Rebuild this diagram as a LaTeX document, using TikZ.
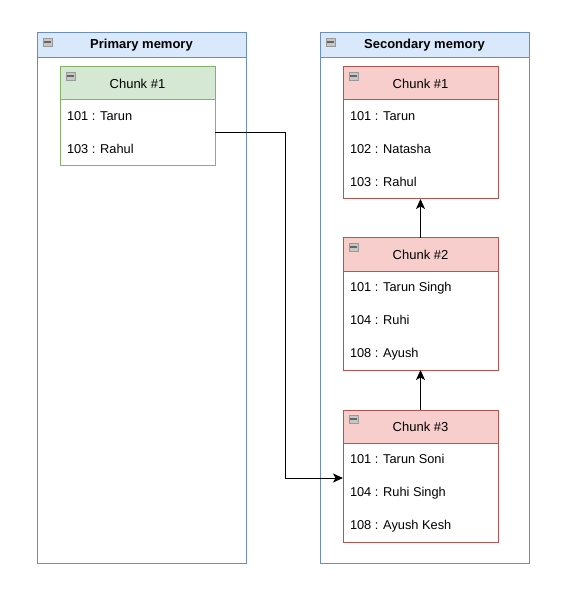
\documentclass[tikz,border=0pt]{standalone}
\usepackage{fontspec}
\setmainfont{Liberation Sans}
\usetikzlibrary{positioning,calc,arrows.meta}

\definecolor{memline}{HTML}{6C8EBF}
\definecolor{memfill}{HTML}{DAE8FC}
\definecolor{newline}{HTML}{82B366}
\definecolor{newfill}{HTML}{D5E8D4}
\definecolor{oldline}{HTML}{B85450}
\definecolor{oldfill}{HTML}{F8CECC}

% little collapse box in the top left corner of a header
\newcommand{\foldicon}[1]{%
  \draw[gray!80, fill=gray!45, line width=0.6pt] ($(#1)+(6,5)$) rectangle ++(9,8);
  \draw[black!60, line width=1.6pt] ($(#1)+(7.2,9)$) -- ++(6.6,0);}

\begin{document}
\begin{tikzpicture}[x=1pt, y=-1pt, line width=1pt,
  every node/.style = {inner sep=0pt, outer sep=0pt},
  memory/.style = {draw=memline, fill=white, minimum width=209pt,
    minimum height=530pt, anchor=north west},
  memhead/.style = {draw=memline, fill=memfill, minimum width=209pt,
    minimum height=25pt, anchor=north west,
    font=\fontsize{13}{15}\selectfont\bfseries},
  chunkhead/.style = {minimum width=155pt, minimum height=33pt,
    anchor=north west, font=\fontsize{13}{15}\selectfont},
  chunkbody/.style = {fill=white, minimum width=155pt, anchor=north},
  newchunk/.style = {draw=newline, fill=newfill},
  oldchunk/.style = {draw=oldline, fill=oldfill},
  row/.style = {anchor=west, text height=9.5pt, text depth=3pt,
    font=\fontsize{12.8}{15}\selectfont},
  link/.style = {draw=black, -{Stealth[length=10pt,width=9pt,inset=2.5pt]}}]
  \useasboundingbox (0,0) rectangle (564,593);

  % the two memories
  \node[memory] (prim) at (37,33) {};
  \node[memhead] (primh) at (37,33) {Primary memory};
  \foldicon{primh.north west}
  \node[memory] (sec) at (320,33) {};
  \node[memhead] (sech) at (320,33) {Secondary memory};
  \foldicon{sech.north west}

  % chunk in primary memory
  \node[chunkhead, newchunk] (p1h) at (60,67) {Chunk \#1};
  \node[chunkbody, draw=newline, minimum height=66pt, below=0pt of p1h] (p1b) {};
  \foldicon{p1h.north west}
  \foreach \t [count=\i] in {101 : Tarun, 103 : Rahul}
    \node[row] (p1r\i) at ($(p1b.north west)+(7,17.5+33*\i-33)$) {\t};

  % chunks in secondary memory
  \node[chunkhead, oldchunk] (s1h) at (343,67) {Chunk \#1};
  \node[chunkbody, draw=oldline, minimum height=99pt, below=0pt of s1h] (s1b) {};
  \foldicon{s1h.north west}
  \foreach \t [count=\i] in {101 : Tarun, 102 : Natasha, 103 : Rahul}
    \node[row] (s1r\i) at ($(s1b.north west)+(7,17.5+33*\i-33)$) {\t};

  \node[chunkhead, oldchunk] (s2h) at (343,238) {Chunk \#2};
  \node[chunkbody, draw=oldline, minimum height=99pt, below=0pt of s2h] (s2b) {};
  \foldicon{s2h.north west}
  \foreach \t [count=\i] in {101 : Tarun Singh, 104 : Ruhi, 108 : Ayush}
    \node[row] (s2r\i) at ($(s2b.north west)+(7,17.5+33*\i-33)$) {\t};

  \node[chunkhead, oldchunk] (s3h) at (343,410) {Chunk \#3};
  \node[chunkbody, draw=oldline, minimum height=99pt, below=0pt of s3h] (s3b) {};
  \foldicon{s3h.north west}
  \foreach \t [count=\i] in {101 : Tarun Soni, 104 : Ruhi Singh, 108 : Ayush Kesh}
    \node[row] (s3r\i) at ($(s3b.north west)+(7,17.5+33*\i-33)$) {\t};

  % links
  \coordinate (bend) at (285,478);
  \draw[link] (p1b.east) -| (bend) -- (bend -| s3b.west);
  \draw[link] (s2h.north) -- (s1b.south);
  \draw[link] (s3h.north) -- (s2b.south);
\end{tikzpicture}
\end{document}
